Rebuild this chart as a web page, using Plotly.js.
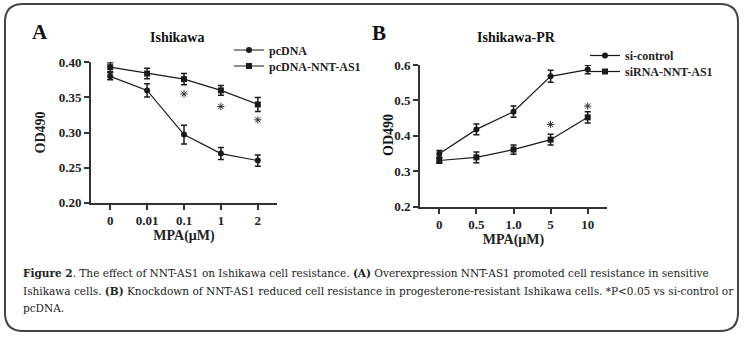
<!DOCTYPE html>
<html>
<head>
<meta charset="utf-8">
<script src="https://cdn.plot.ly/plotly-3.0.1.min.js"></script>
<style>html,body{margin:0;padding:0;background:#fff}#chart{width:746px;height:338px}</style>
</head>
<body>
<div id="chart"></div>
<script>
// ---- Data ----
const catsA = ["0", "0.01", "0.1", "1", "2"];
const pcDNA = [0.380, 0.360, 0.297, 0.270, 0.260];
const pcDNAErr = [0.005, 0.0095, 0.0135, 0.0085, 0.008];
const pcNNT = [0.393, 0.384, 0.376, 0.360, 0.340];
const pcNNTErr = [0.0065, 0.0075, 0.008, 0.007, 0.010];
const starCatsA = ["0.1", "1", "2"];
const starYA = [0.355, 0.337, 0.318];

const catsB = ["0", "0.5", "1.0", "5", "10"];
const siControl = [0.349, 0.418, 0.468, 0.568, 0.587];
const siControlErr = [0.009, 0.015, 0.016, 0.017, 0.012];
const siNNT = [0.330, 0.339, 0.361, 0.389, 0.452];
const siNNTErr = [0.008, 0.015, 0.013, 0.015, 0.016];
const starCatsB = ["5", "10"];
const starYB = [0.432, 0.484];

const yTicksA = [0.20, 0.25, 0.30, 0.35, 0.40];
const yTicksB = [0.2, 0.3, 0.4, 0.5, 0.6];

// ---- helpers ----
const W = 746, H = 338;
const px = x => x / W;
const py = y => 1 - y / H;
const ink = '#1a1a1a';
const axisCol = '#333333';
const serif = 'Liberation Serif, Times New Roman, serif';

function series(x, y, err, sym, size, xa, ya, name, leg) {
  return {
    type: 'scatter', mode: 'lines+markers', x: x, y: y, name: name,
    xaxis: xa, yaxis: ya, legend: leg, cliponaxis: false,
    line: {color: ink, width: 1.2},
    marker: {symbol: sym, size: size, color: ink},
    error_y: {type: 'data', array: err, visible: true, color: ink, thickness: 1.5, width: 3},
    hoverinfo: 'x+y'
  };
}
function stars(x, y, xa, ya) {
  return {
    type: 'scatter', mode: 'markers', x: x, y: y, name: '*',
    xaxis: xa, yaxis: ya, showlegend: false, cliponaxis: false,
    marker: {symbol: 'asterisk-open', size: 6, color: '#333', line: {color: '#333', width: 1}},
    hoverinfo: 'skip'
  };
}

const traces = [
  series(catsA, pcDNA, pcDNAErr, 'circle', 6, 'x', 'y', 'pcDNA', 'legend'),
  series(catsA, pcNNT, pcNNTErr, 'square', 6, 'x', 'y', 'pcDNA-NNT-AS1', 'legend2'),
  stars(starCatsA, starYA, 'x', 'y'),
  series(catsB, siControl, siControlErr, 'circle', 6, 'x2', 'y2', 'si-control', 'legend3'),
  series(catsB, siNNT, siNNTErr, 'square', 6, 'x2', 'y2', 'siRNA-NNT-AS1', 'legend4'),
  stars(starCatsB, starYB, 'x2', 'y2')
];

const tickFont = {family: serif, size: 13, color: '#222', weight: 'bold'};
const titleFont = {family: serif, size: 14, color: '#222', weight: 'bold'};

function xAxis(dom, anchor, standoff) {
  return {
    domain: dom, anchor: anchor, type: 'category', range: [-0.52, 4.52],
    showline: true, linewidth: 2, linecolor: axisCol, mirror: false,
    ticks: 'outside', ticklen: 5, tickwidth: 2, tickcolor: axisCol,
    showgrid: false, zeroline: false, tickfont: tickFont, fixedrange: true,
    title: {text: 'MPA(μM)', font: titleFont, standoff: standoff}
  };
}
function yAxis(dom, anchor, range, tv, fmt, title, standoff) {
  return {
    domain: dom, anchor: anchor, range: range, tickvals: tv, tickformat: fmt,
    showline: true, linewidth: 2, linecolor: axisCol,
    ticks: 'outside', ticklen: 5, tickwidth: 2, tickcolor: axisCol,
    showgrid: false, zeroline: false, tickfont: tickFont, fixedrange: true,
    title: {text: title, font: titleFont, standoff: standoff}
  };
}

const capFont = {family: 'DejaVu Serif Condensed, DejaVu Serif, serif', size: 11.7, color: '#222'};
function cap(text, y) {
  return {xref: 'paper', yref: 'paper', x: px(21), y: py(y), xanchor: 'left', yanchor: 'middle',
    text: text, showarrow: false, font: capFont};
}
function lab(text, x, y, size, angle) {
  return {xref: 'paper', yref: 'paper', x: px(x), y: py(y), xanchor: 'center', yanchor: 'middle',
    text: text, showarrow: false, textangle: angle || 0,
    font: {family: serif, size: size, color: '#111', weight: 'bold'}};
}

// rounded border
const bx0 = 5, by0 = 4, bx1 = 738, by1 = 331, r = 18;
const P = (x, y) => px(x).toFixed(5) + ',' + py(y).toFixed(5);
const borderPath = 'M ' + P(bx0 + r, by0) + ' L ' + P(bx1 - r, by0) +
  ' Q ' + P(bx1, by0) + ' ' + P(bx1, by0 + r) + ' L ' + P(bx1, by1 - r) +
  ' Q ' + P(bx1, by1) + ' ' + P(bx1 - r, by1) + ' L ' + P(bx0 + r, by1) +
  ' Q ' + P(bx0, by1) + ' ' + P(bx0, by1 - r) + ' L ' + P(bx0, by0 + r) +
  ' Q ' + P(bx0, by0) + ' ' + P(bx0 + r, by0) + ' Z';

const legendFont = {family: serif, size: 12, color: '#222', weight: 'bold'};
function leg(x, rowY) {
  return {x: px(x), y: py(rowY - 12), xanchor: 'left', yanchor: 'top', font: legendFont,
    bgcolor: 'rgba(0,0,0,0)', itemwidth: 30};
}

const layout = {
  width: W, height: H, margin: {l: 0, r: 0, t: 0, b: 0},
  paper_bgcolor: '#fff', plot_bgcolor: '#fff', showlegend: true,
  xaxis: xAxis([px(91), px(277)], 'y', 3),
  yaxis: yAxis([py(202.7), py(62.3)], 'x', [0.2, 0.4], yTicksA, '.2f', 'OD490', 10),
  xaxis2: xAxis([px(420), px(607)], 'y2', 0),
  yaxis2: yAxis([py(206.5), py(65)], 'x2', [0.2, 0.6], yTicksB, '.1f', '', 0),
  legend: leg(229, 47.5),
  legend2: leg(229, 63.5),
  legend3: leg(585, 53),
  legend4: leg(585, 69),
  shapes: [{type: 'path', xref: 'paper', yref: 'paper', path: borderPath,
    line: {color: '#444', width: 2}, fillcolor: 'rgba(0,0,0,0)'}],
  annotations: [
    lab('A', 40, 32, 21),
    lab('B', 379, 33, 21),
    lab('Ishikawa', 177, 37, 14),
    lab('Ishikawa-PR', 516, 37, 14),
    lab('OD490', 389, 135, 14, -90),
    cap('<b>Figure 2</b>. The effect of NNT-AS1 on Ishikawa cell resistance. <b>(A)</b> Overexpression NNT-AS1 promoted cell resistance in sensitive', 273),
    cap('Ishikawa cells. <b>(B)</b> Knockdown of NNT-AS1 reduced cell resistance in progesterone-resistant Ishikawa cells. *P&lt;0.05 vs si-control or', 290.5),
    cap('pcDNA.', 308)
  ]
};

Plotly.newPlot('chart', traces, layout, {displayModeBar: false, staticPlot: true});
</script>
</body>
</html>
